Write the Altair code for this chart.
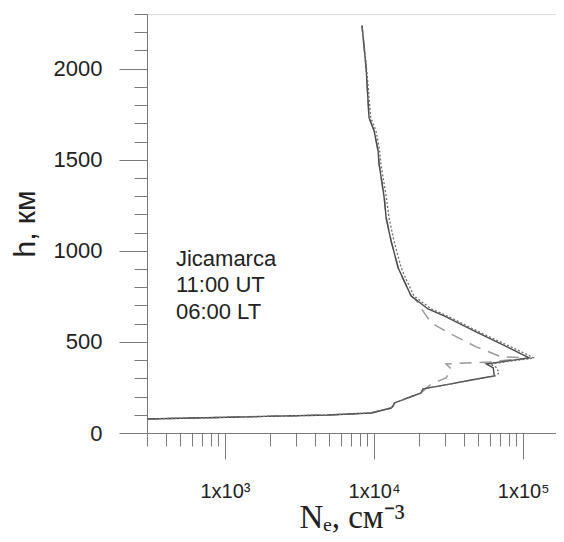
import altair as alt
import pandas as pd

# ---- data (h in km, Ne in cm^-3) ----
solid_h = [77, 88, 99, 110, 137, 148, 165, 220, 242, 267, 291, 313, 324, 357, 379,
           412, 462, 549, 643, 681, 753, 835, 907, 1055, 1181, 1291, 1478, 1549,
           1659, 1731, 2005, 2236]
solid_n = [300, 1280, 4900, 9550, 13000, 13400, 13700, 20650, 21300, 31400, 44800,
           63800, 63800, 63000, 56500, 109600, 83000, 49900, 29500, 23000, 17700,
           15900, 14500, 13000, 12050, 11700, 10800, 10640, 10000, 9250, 8840, 8300]

dotted_h = [77, 88, 99, 110, 137, 148, 165, 220, 242, 267, 291, 313, 330, 360, 379,
            412, 462, 549, 643, 681, 753, 835, 907, 1055, 1181, 1291, 1478, 1549,
            1659, 1731, 2005, 2236]
dotted_n = [300, 1280, 4900, 9550, 13000, 13400, 13700, 20650, 21300, 31800, 45500,
            65000, 69000, 66000, 60000, 118600, 88300, 52300, 30900, 24200, 18500,
            16600, 15200, 13600, 12600, 12100, 11100, 10900, 10300, 9500, 8900, 8300]

dashed_h = [77, 88, 99, 110, 137, 148, 165, 220, 269, 302, 352, 379, 390, 412, 418,
            473, 549, 604, 659, 725, 753, 835, 907, 1055, 1181, 1291, 1478, 1549,
            1659, 1731, 2005, 2236]
dashed_n = [300, 1280, 4900, 9550, 13000, 13400, 13700, 20650, 24200, 30400, 32900,
            30400, 59200, 109600, 71100, 48400, 31800, 24200, 21700, 19300, 17700,
            15900, 14500, 13000, 12050, 11700, 10800, 10640, 10000, 9250, 8840, 8300]

x_minor_ticks = [300, 400, 500, 600, 700, 800, 900,
                 1000, 2000, 3000, 4000, 5000, 6000, 7000, 8000, 9000,
                 10000, 20000, 30000, 40000, 50000, 60000, 70000, 80000, 90000,
                 100000]
x_major_ticks = [1000, 10000, 100000]
y_minor_ticks = list(range(0, 2301, 100))
y_major_ticks = [0, 500, 1000, 1500, 2000]

ann_text = ["Jicamarca", "11:00 UT", "06:00 LT"]
ann_n = [469, 469, 469]
ann_h = [918, 772, 626]


def frame(hs, ns):
    return pd.DataFrame({"h": hs, "n": ns, "i": list(range(len(hs)))})


xs = alt.Scale(type="log", domain=[300, 166000], nice=False)
ys = alt.Scale(domain=[0, 2300], nice=False)
AX = "#7a7a7a"
LBL = "#222222"

x_major_axis = alt.Axis(
    orient="bottom",
    values=x_major_ticks, tickSize=26, tickColor=AX, domainColor=AX,
    labelExpr="datum.value == 1000 ? '1x10³' : datum.value == 10000 ? '1x10⁴' : '1x10⁵'",
    labelFont="Liberation Sans", labelFontSize=20, labelColor=LBL, labelPadding=22,
    title="Nₑ, см⁻³", titleFont="Liberation Serif", titleFontSize=33,
    titleFontWeight="normal", titleColor=LBL, titlePadding=0, grid=False,
    labelFlush=False, labelOverlap=False,
)
x_minor_axis = alt.Axis(
    values=x_minor_ticks, tickSize=13, tickColor=AX, domainColor=AX,
    labels=False, title=None, grid=False, orient="bottom",
)
y_major_axis = alt.Axis(
    orient="left",
    values=y_major_ticks, tickSize=28, tickColor=AX, domainColor=AX, format="d",
    labelFont="Liberation Sans", labelFontSize=22, labelColor=LBL, labelPadding=17,
    title="h, км", titleFont="Liberation Sans", titleFontSize=30,
    titleFontWeight="normal", titleColor=LBL, titlePadding=13, grid=False,
    labelFlush=False,
)
y_minor_axis = alt.Axis(
    values=y_minor_ticks, tickSize=13, tickColor=AX, domainColor=AX,
    labels=False, title=None, grid=False, orient="left",
)

dashed = alt.Chart(frame(dashed_h, dashed_n)).mark_line(
    color="#9a9a9a", strokeWidth=1.5, strokeDash=[12, 8]
).encode(
    x=alt.X("n:Q", scale=xs, axis=x_minor_axis),
    y=alt.Y("h:Q", scale=ys, axis=y_minor_axis),
    order="i:Q",
)
solid = alt.Chart(frame(solid_h, solid_n)).mark_line(
    color="#4a4a4a", strokeWidth=1.4
).encode(
    x=alt.X("n:Q", scale=xs, axis=x_major_axis),
    y=alt.Y("h:Q", scale=ys, axis=y_major_axis),
    order="i:Q",
)
dotted = alt.Chart(frame(dotted_h, dotted_n)).mark_line(
    color="#6e6e6e", strokeWidth=1.3, strokeDash=[2, 2]
).encode(
    x=alt.X("n:Q", scale=xs, axis=None),
    y=alt.Y("h:Q", scale=ys, axis=None),
    order="i:Q",
)
ann = alt.Chart(pd.DataFrame({"t": ann_text, "n": ann_n, "h": ann_h})).mark_text(
    align="left", baseline="alphabetic", font="Liberation Sans", fontSize=22,
    color=LBL
).encode(
    x=alt.X("n:Q", scale=xs, axis=None),
    y=alt.Y("h:Q", scale=ys, axis=None),
    text="t:N",
)

chart = alt.layer(dashed, solid, dotted, ann).resolve_axis(
    x="independent", y="independent"
).properties(
    width=409, height=419,
    padding={"left": 2, "top": 5, "right": 0, "bottom": 0},
).configure_view(stroke=None).configure(background="white")

chart.save("out.html", embed_options={"renderer": "svg", "actions": False})
